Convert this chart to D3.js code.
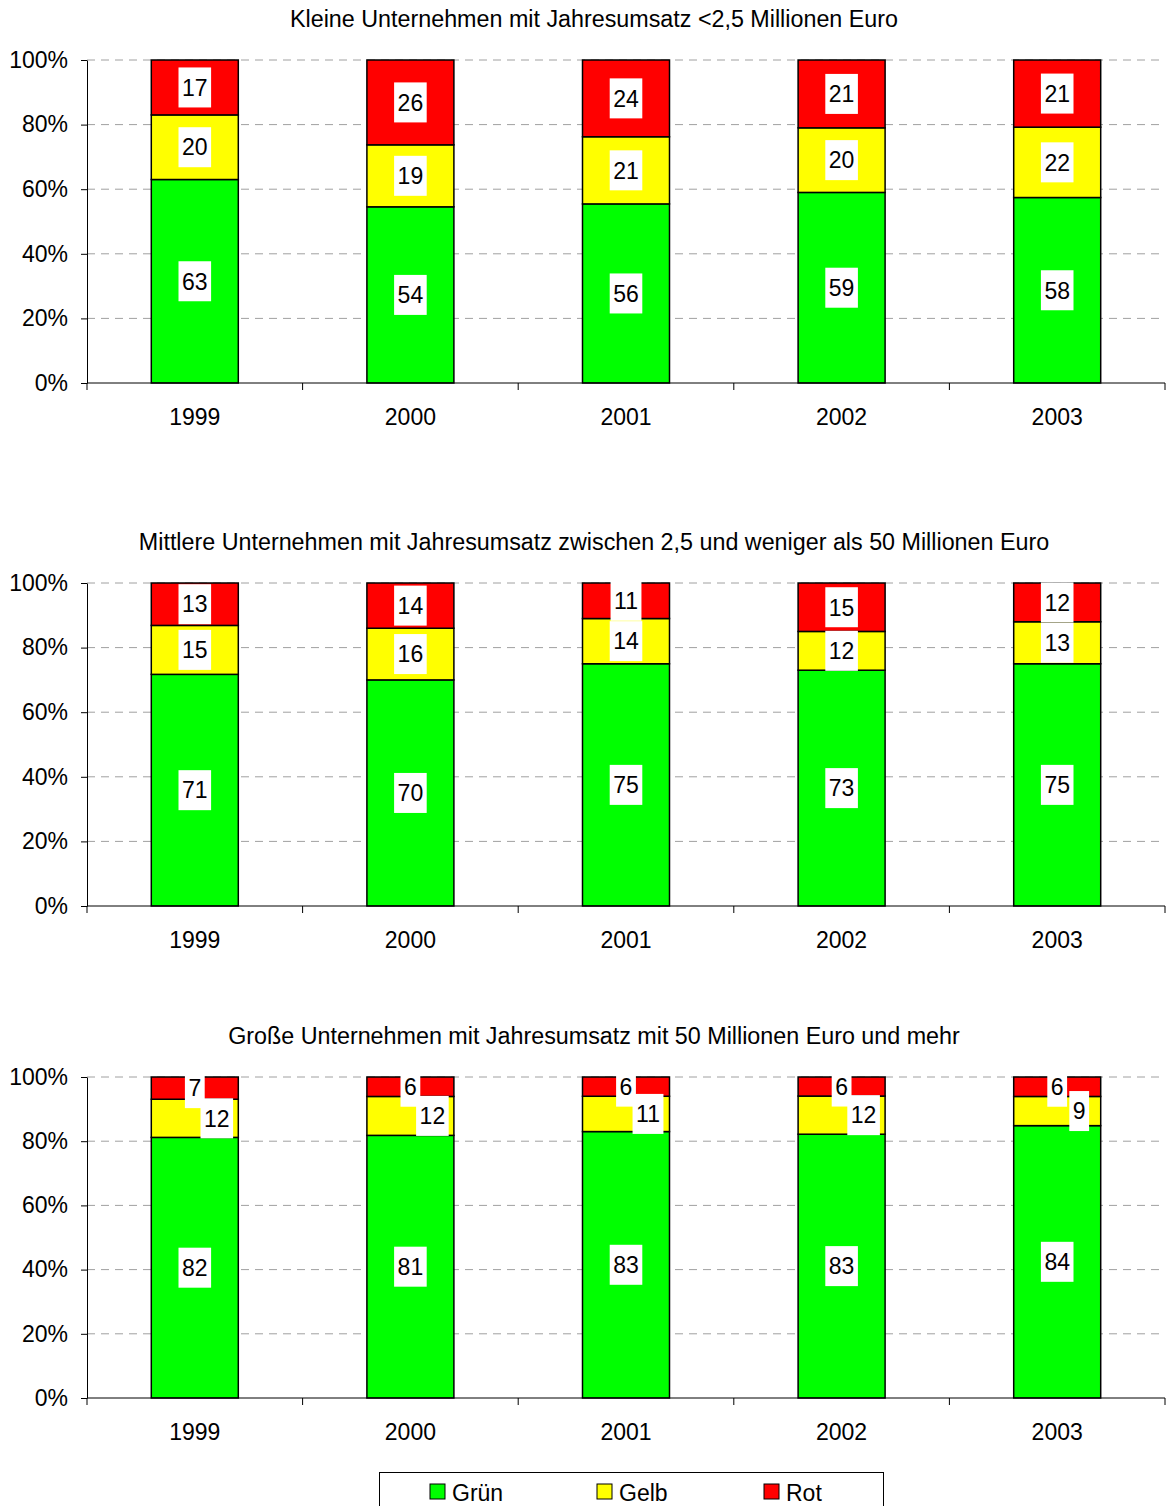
<!DOCTYPE html>
<html>
<head>
<meta charset="utf-8">
<script src="https://cdn.jsdelivr.net/npm/d3@7"></script>
<style>
  body { margin: 0; background: #fff; }
  svg { display: block; font-family: "Liberation Sans", Arial, sans-serif; }
</style>
</head>
<body>
<div id="chart"></div>
<script>
const years = ['1999', '2000', '2001', '2002', '2003'];
const seriesNames = ['Grün', 'Gelb', 'Rot'];
const seriesColors = ['#00ff00', '#ffff00', '#ff0000'];
const yTicks = [0, 0.2, 0.4, 0.6, 0.8, 1];

const titles = [
  'Kleine Unternehmen mit Jahresumsatz <2,5 Millionen Euro',
  'Mittlere Unternehmen mit Jahresumsatz zwischen 2,5 und weniger als 50 Millionen Euro',
  'Große Unternehmen mit Jahresumsatz mit 50 Millionen Euro und mehr',
];

const kleinGruen = [63, 54, 56, 59, 58];
const kleinGelb = [20, 19, 21, 20, 22];
const kleinRot = [17, 26, 24, 21, 21];

const mittelGruen = [71, 70, 75, 73, 75];
const mittelGelb = [15, 16, 14, 12, 13];
const mittelRot = [13, 14, 11, 15, 12];

const grossGruen = [82, 81, 83, 83, 84];
const grossGelb = [12, 12, 11, 12, 9];
const grossRot = [7, 6, 6, 6, 6];

const panels = [
  { title: titles[0], series: [kleinGruen, kleinGelb, kleinRot], top: 60, height: 323 },
  { title: titles[1], series: [mittelGruen, mittelGelb, mittelRot], top: 583, height: 323 },
  { title: titles[2], series: [grossGruen, grossGelb, grossRot], top: 1077, height: 321 },
];

const W = 1168;
const H = 1506;
const left = 87;
const right = 1165;

const svg = d3.select('#chart').append('svg')
  .attr('width', W)
  .attr('height', H);

const x = d3.scaleBand().domain(years).range([left, right]).paddingInner(0).paddingOuter(0);
const barW = 87;

panels.forEach((p) => {
  const y = d3.scaleLinear().domain([0, 1]).range([p.top + p.height, p.top]);
  const g = svg.append('g');

  g.append('text')
    .attr('x', 594)
    .attr('y', p.top - 33)
    .attr('text-anchor', 'middle')
    .attr('font-size', 23.3)
    .attr('fill', '#000')
    .text(p.title);

  // grid
  g.selectAll('line.grid')
    .data(yTicks.filter(d => d > 0))
    .enter().append('line')
    .attr('x1', left)
    .attr('x2', right)
    .attr('y1', d => y(d))
    .attr('y2', d => y(d))
    .attr('stroke', '#a0a0a0')
    .attr('stroke-width', 1)
    .attr('stroke-dasharray', '8,6');

  // y axis
  const yAxis = d3.axisLeft(y)
    .tickValues(yTicks)
    .tickFormat(d3.format('.0%'))
    .tickSizeInner(6)
    .tickSizeOuter(0)
    .tickPadding(13);
  const ya = g.append('g')
    .attr('transform', `translate(${left},0)`)
    .call(yAxis);
  ya.select('.domain').attr('stroke', '#000').attr('stroke-width', 1);
  ya.selectAll('.tick line').attr('stroke', '#000');
  ya.selectAll('.tick text')
    .attr('font-size', 23)
    .attr('font-family', '"Liberation Sans", Arial, sans-serif')
    .attr('fill', '#000');

  // stacked, normalised to 100 %
  const rows = years.map((yr, i) => {
    const vals = p.series.map(s => s[i]);
    const total = d3.sum(vals);
    let acc = 0;
    return vals.map((v, k) => {
      const seg = { year: yr, k, value: v, y0: acc / total, y1: (acc + v) / total };
      acc += v;
      return seg;
    });
  });

  rows.forEach((segs) => {
    const cx = x(segs[0].year) + x.bandwidth() / 2;
    g.selectAll(null)
      .data(segs)
      .enter().append('rect')
      .attr('x', cx - barW / 2)
      .attr('width', barW)
      .attr('y', d => y(d.y1))
      .attr('height', d => y(d.y0) - y(d.y1))
      .attr('fill', d => seriesColors[d.k])
      .attr('stroke', '#000')
      .attr('stroke-width', 1.5);
  });

  // x axis
  const xa = g.append('g').attr('transform', `translate(0,${p.top + p.height})`);
  xa.append('line')
    .attr('x1', left).attr('x2', right)
    .attr('stroke', '#000');
  xa.selectAll('line.tk')
    .data(years.map(d => x(d)).concat([right]))
    .enter().append('line')
    .attr('x1', d => d).attr('x2', d => d)
    .attr('y1', 0).attr('y2', 7)
    .attr('stroke', '#000');
  xa.selectAll('text')
    .data(years)
    .enter().append('text')
    .attr('x', d => x(d) + x.bandwidth() / 2)
    .attr('y', 42)
    .attr('text-anchor', 'middle')
    .attr('font-size', 23)
    .text(d => d);

  // value labels, top segment first, nudged right when they collide
  rows.forEach((segs) => {
    const cx = x(segs[0].year) + x.bandwidth() / 2;
    let prev = null;
    segs.slice().reverse().forEach((d) => {
      const cy = (y(d.y0) + y(d.y1)) / 2;
      const lbl = g.append('g');
      const t = lbl.append('text')
        .attr('text-anchor', 'middle')
        .attr('font-size', 23)
        .attr('dy', '0.36em')
        .text(d.value);
      const tw = t.node().getComputedTextLength();
      const bw = tw + 7;
      const bh = 40;
      let lx = cx;
      if (prev && prev.y + bh / 2 - (cy - bh / 2) > 2) lx = cx + 22;
      lbl.attr('transform', `translate(${lx},${cy})`);
      lbl.insert('rect', 'text')
        .attr('x', -bw / 2)
        .attr('y', -bh / 2)
        .attr('width', bw)
        .attr('height', bh)
        .attr('fill', '#fff');
      prev = { x: lx, y: cy };
    });
  });
});

// legend
const lg = svg.append('g');
lg.append('rect')
  .attr('x', 379.5).attr('y', 1472.5)
  .attr('width', 504).attr('height', 40)
  .attr('fill', '#fff')
  .attr('stroke', '#000');
const legX = [430, 597, 764];
seriesNames.forEach((name, i) => {
  lg.append('rect')
    .attr('x', legX[i]).attr('y', 1484)
    .attr('width', 15).attr('height', 15)
    .attr('fill', seriesColors[i])
    .attr('stroke', '#000');
  lg.append('text')
    .attr('x', legX[i] + 22).attr('y', 1501)
    .attr('font-size', 23)
    .text(name);
});
</script>
</body>
</html>
